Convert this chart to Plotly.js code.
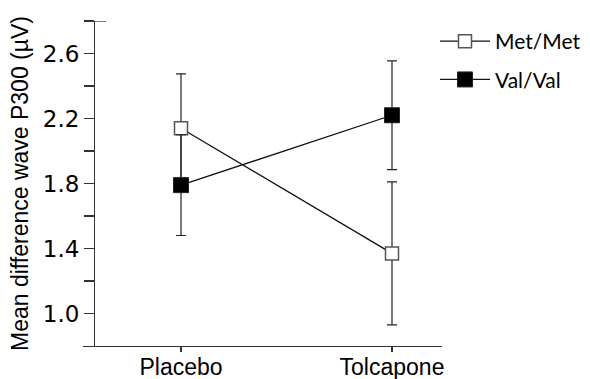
<!DOCTYPE html>
<html><head><meta charset="utf-8">
<script src="https://cdn.plot.ly/plotly-3.0.1.min.js"></script>
<style>body{margin:0;background:#fff}#c{width:590px;height:379px}</style>
</head><body><div id="c"></div>
<script>
const categories = ['Placebo', 'Tolcapone'];
const metMet = [2.14, 1.37];
const metMetErr = [0.335, 0.44];
const valVal = [1.79, 2.22];
const valValErr = [0.31, 0.335];
const yTickVals = [1.0, 1.2, 1.4, 1.6, 1.8, 2.0, 2.2, 2.4, 2.6, 2.8];
const yTickText = ['1.0', '', '1.4', '', '1.8', '', '2.2', '', '2.6', ''];

const L = 83, R = 442, T = 21, B = 346;
const W = 590, H = 379;
const yPos = (94 - L) / (R - L);

const traces = [
  {
    x: categories, y: metMet, name: 'Met/Met', legendgroup: 'a', type: 'scatter', mode: 'lines+markers',
    line: {color: '#111', width: 1.3},
    marker: {symbol: 'square', size: 13, color: '#fff', line: {color: '#555', width: 1.5}},
    error_y: {type: 'data', array: metMetErr, visible: true, color: '#222', thickness: 1.2, width: 5}
  },
  {
    x: categories, y: valVal, name: 'Val/Val', legendgroup: 'b', type: 'scatter', mode: 'lines+markers',
    line: {color: '#111', width: 1.3},
    marker: {symbol: 'square', size: 15, color: '#000', line: {color: '#222', width: 1}},
    error_y: {type: 'data', array: valValErr, visible: true, color: '#222', thickness: 1.2, width: 5}
  }
];

const layout = {
  width: W, height: H,
  margin: {l: L, r: W - R, t: T, b: H - B, autoexpand: false},
  paper_bgcolor: '#fff', plot_bgcolor: '#fff',
  showlegend: true,
  legend: {x: (435 - L) / (R - L), y: 1.0, xanchor: 'left', yanchor: 'top',
    font: {family: 'Lato, sans-serif', size: 21, color: '#000'}, itemwidth: 50, tracegroupgap: 8,
    bgcolor: 'rgba(0,0,0,0)'},
  font: {family: 'Liberation Sans, Arial, sans-serif', color: '#000'},
  xaxis: {
    type: 'category', categoryarray: categories, range: [-0.4645, 1.237],
    showline: true, linecolor: '#333', linewidth: 1.3, ticks: 'outside', ticklen: 5,
    tickcolor: '#333', tickwidth: 1.3, showgrid: false, zeroline: false,
    tickfont: {size: 23, color: '#000'}, automargin: false, ticklabelstandoff: -5
  },
  yaxis: {
    range: [0.8, 2.8], anchor: 'free', position: yPos,
    tickmode: 'array', tickvals: yTickVals, ticktext: yTickText,
    showline: true, linecolor: '#333', linewidth: 1.3, ticks: 'outside', ticklen: 10,
    tickcolor: '#333', tickwidth: 1.3, showgrid: false, zeroline: false,
    tickfont: {family: 'DejaVu Sans, sans-serif', size: 23, color: '#000'}, automargin: false,
    title: {text: 'Mean difference wave P300 (\u00b5V)', font: {size: 23, color: '#000'}, standoff: 6}
  },
  shapes: [
    {type: 'line', xref: 'paper', yref: 'y', x0: yPos, x1: yPos + 12 / (R - L), y0: 2.8, y1: 2.8,
     line: {color: '#333', width: 1.3}}
  ]
};
Plotly.newPlot('c', traces, layout, {staticPlot: true, displayModeBar: false});
</script></body></html>
